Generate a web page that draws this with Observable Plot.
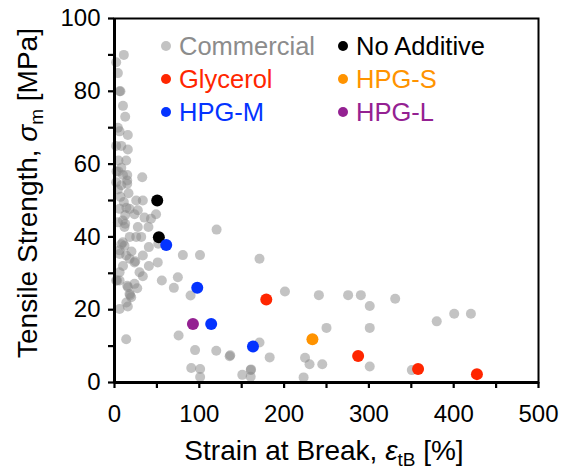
<!DOCTYPE html>
<html>
<head>
<meta charset="utf-8">
<script src="https://cdn.jsdelivr.net/npm/d3@7"></script>
<script src="https://cdn.jsdelivr.net/npm/@observablehq/plot@0.6"></script>
<style>
  html, body { margin: 0; padding: 0; background: #fff; }
  #chart { width: 561px; height: 474px; }
</style>
</head>
<body>
<div id="chart"></div>
<script>
// ---- Data ----
const commercialStrain = [
  11, 2, 4, 6, 7, 10, 12.6, 4, 6, 15.7, 2, 8, 15.7, 4.7, 13.8, 4.7, 15, 15, 15, 32.7,
  2, 8, 4, 16.5, 7, 25.6, 33.4, 11, 6, 17.7, 27.5, 12.6, 23.6, 9.8, 35.4, 49, 43, 27.5,
  40, 12.6, 11.8, 9.8, 11.8, 6, 25.6, 31.5, 40.5, 51.6, 13.8, 23.6, 24.5, 33.4, 17.7, 6,
  51, 40.5, 29.5, 33.4, 6, 2, 6, 15, 16, 23.6, 26.8, 55.8, 74.7, 70, 80.6, 100.8, 89.7,
  17.7, 18.5, 19.7, 15.7, 6, 13.8, 75.6, 95, 120, 90.5, 101, 101, 120.4, 171, 201, 241,
  275.5, 290.5, 301, 331, 380, 400.6, 420.3, 250, 301, 171, 135.8, 136.5, 183, 224.7,
  230, 245, 301, 350.6, 150.7, 160.6, 161, 160.6, 223, 2.4, 8, 10, 14, 3,
  8, 10, 4, 18, 20, 14
];
const commercialStrength = [
  90, 88, 85, 80, 80, 76, 73, 70, 69, 68, 65, 65, 64, 61, 61, 58, 57, 55.5, 54.6, 56.4,
  55, 54.2, 53, 52, 51, 50, 50, 49.6, 47.7, 47.7, 47.3, 46, 46.2, 44.5, 45.3, 46.2, 45, 42.7,
  42.7, 43.6, 42.7, 38.5, 37.6, 36.3, 40, 40, 37.2, 38.1, 34.9, 33, 33.3, 34.9, 34, 35.3,
  33, 32, 30.3, 29.2, 30.3, 28, 28, 26.6, 26.2, 27.1, 25.9, 28, 28.9, 26, 35, 35, 23.9,
  24.3, 24, 23.4, 20.9, 20.2, 11.9, 12.9, 8.9, 8.7, 4, 3.7, 1.5, 42, 34, 25, 24,
  24, 24, 21, 23, 16.8, 18.9, 18.9, 15, 15, 11, 7.2, 7.5, 6.9, 6.8,
  5, 5, 4.4, 3.4, 2.1, 3.4, 3.6, 1.6, 1.4, 58, 59, 57, 22, 28,
  38, 32, 44, 40, 36, 48
];
const noAdditiveStrain = [50.4, 52.3];
const noAdditiveStrength = [50, 39.9];
const glycerolStrain = [179, 287.3, 358, 427.4];
const glycerolStrength = [22.8, 7.3, 3.7, 2.3];
const hpgSStrain = [233.4];
const hpgSStrength = [11.9];
const hpgMStrain = [61, 97.6, 114, 163.3];
const hpgMStrength = [37.8, 26, 16.1, 9.9];
const hpgLStrain = [92.5];
const hpgLStrength = [16.1];

const xTicks = [0, 50, 100, 150, 200, 250, 300, 350, 400, 450, 500];
const xLabels = [0, 100, 200, 300, 400, 500];
const yTicks = [0, 10, 20, 30, 40, 50, 60, 70, 80, 90, 100];
const yLabels = [0, 20, 40, 60, 80, 100];

const series = [
  {name: "Commercial", color: "#c3c3c3", text: "#8c8c8c"},
  {name: "No Additive", color: "#000000", text: "#000000"},
  {name: "Glycerol", color: "#ff2600", text: "#ff2600"},
  {name: "HPG-S", color: "#ff9300", text: "#ff9300"},
  {name: "HPG-M", color: "#0433ff", text: "#0433ff"},
  {name: "HPG-L", color: "#942192", text: "#942192"}
];

const toRows = (xs, ys) => xs.map((x, i) => ({x, y: ys[i]}));
const commercial = toRows(commercialStrain, commercialStrength);
const colored = [
  {rows: toRows(noAdditiveStrain, noAdditiveStrength), color: series[1].color},
  {rows: toRows(glycerolStrain, glycerolStrength), color: series[2].color},
  {rows: toRows(hpgSStrain, hpgSStrength), color: series[3].color},
  {rows: toRows(hpgMStrain, hpgMStrength), color: series[4].color},
  {rows: toRows(hpgLStrain, hpgLStrength), color: series[5].color}
];

const FONT = "'Liberation Sans', Arial, Helvetica, sans-serif";

const svg = Plot.plot({
  width: 561,
  height: 474,
  marginLeft: 114,
  marginRight: 23,
  marginTop: 18,
  marginBottom: 92,
  style: {fontFamily: FONT, fontSize: "24px", color: "#000", background: "#fff", overflow: "visible"},
  x: {domain: [0, 500]},
  y: {domain: [0, 100]},
  marks: [
    Plot.dot(commercial, {x: "x", y: "y", r: 5, fill: "#888888", fillOpacity: 0.5}),
    ...colored.map(s => Plot.dot(s.rows, {x: "x", y: "y", r: 6, fill: s.color})),
    Plot.frame({stroke: "#000", strokeWidth: 2}),
    Plot.axisX({ticks: xTicks, tickSize: 6, tickPadding: 16, strokeWidth: 2.2,
      tickFormat: d => xLabels.includes(d) ? String(d) : "", label: null, fill: "#000"}),
    Plot.axisY({ticks: yTicks, tickSize: 6, tickPadding: 8, strokeWidth: 2.2,
      tickFormat: d => yLabels.includes(d) ? String(d) : "", label: null, fill: "#000"}),
    Plot.ruleX([0], {stroke: "#000", strokeWidth: 3}),
    Plot.ruleY([0], {stroke: "#000", strokeWidth: 3})
  ]
});

const s = d3.select(svg);

// Axis titles
const xt = s.append("text")
  .attr("x", 324).attr("y", 460)
  .attr("text-anchor", "middle")
  .attr("font-family", FONT).attr("font-size", 28).attr("fill", "#000");
xt.append("tspan").text("Strain at Break, ");
xt.append("tspan").attr("font-style", "italic").text("ε");
xt.append("tspan").attr("font-size", 19).attr("dy", 6).text("tB");
xt.append("tspan").attr("dy", -6).text(" [%]");

const yt = s.append("text")
  .attr("transform", "translate(37,193) rotate(-90)")
  .attr("text-anchor", "middle")
  .attr("font-family", FONT).attr("font-size", 28).attr("fill", "#000");
yt.append("tspan").text("Tensile Strength, ");
yt.append("tspan").attr("font-style", "italic").text("σ");
yt.append("tspan").attr("font-size", 19).attr("dy", 6).text("m");
yt.append("tspan").attr("dy", -6).text(" [MPa]");

// Legend (two columns, three rows)
const legendCols = [166, 343];
const legendRows = [55, 88, 121];
series.forEach((d, i) => {
  const cx = legendCols[i % 2];
  const by = legendRows[Math.floor(i / 2)];
  s.append("circle").attr("cx", cx).attr("cy", by - 9).attr("r", 5).attr("fill", d.color);
  s.append("text").attr("x", cx + 13).attr("y", by)
    .attr("text-anchor", "start")
    .attr("font-family", FONT).attr("font-size", 25.5).attr("fill", d.text).text(d.name);
});

document.getElementById("chart").appendChild(svg);
</script>
</body>
</html>
